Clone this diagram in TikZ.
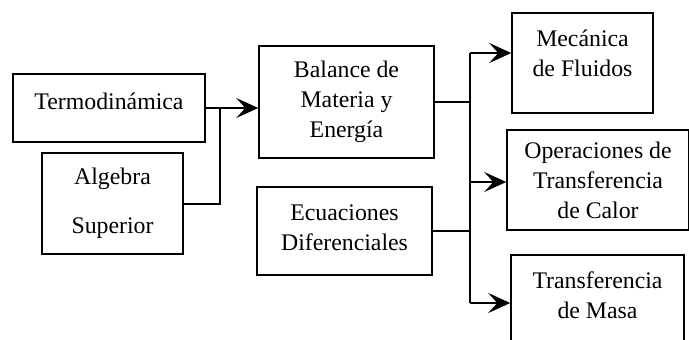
\documentclass[tikz,border=0pt]{standalone}
\usepackage{fontspec}
\setmainfont{Liberation Serif}
\usetikzlibrary{arrows.meta}
\tikzstyle{box}=[draw,line width=0.75pt,align=center,inner sep=0pt,font=\fontsize{11.9}{15}\selectfont]
\tikzstyle{line}=[line width=1pt]
\tikzstyle{arr}=[line width=1pt,-{Stealth[length=11pt,width=10pt,inset=4.5pt]}]

\begin{document}
\begin{tikzpicture}[x=0.5pt,y=-0.5pt]
\useasboundingbox (0,0) rectangle (689,339);

\node[box,minimum width=96pt,minimum height=34pt,text depth=7pt] (termo) at (109,108) {Termodinámica};
\node[box,minimum width=70.5pt,minimum height=50.5pt] (alg) at (112.5,203.5) {Algebra\\[9.5pt]Superior};
\node[box,minimum width=87.5pt,minimum height=56pt] (bal) at (346.5,102) {Balance de\\Materia y\\Energía};
\node[box,minimum width=87.5pt,minimum height=44pt,text depth=3.5pt] (ecu) at (344.5,231) {Ecuaciones\\Diferenciales};
\node[box,minimum width=70.5pt,minimum height=50pt,text depth=10pt] (meca) at (582.5,63) {Mecánica\\de Fluidos};
\node[box,minimum width=91pt,minimum height=50pt] (oper) at (598,180) {Operaciones de\\Transferencia\\de Calor};
\node[box,minimum width=86.5pt,minimum height=50pt,text depth=10pt] (masa) at (597.5,305) {Transferencia\\de Masa};

\coordinate (j1) at (220,108);
\draw[line] (alg.east) -| (j1);
\draw[arr] (termo.east) -- (termo.east -| bal.west);

\coordinate (ta) at (470,53);
\coordinate (tb) at (470,182);
\coordinate (tc) at (470,303);
\draw[line] (ta) -- (tc);
\draw[line] (bal.east) -- (bal.east -| ta);
\draw[line] (ecu.east) -- (ecu.east -| ta);
\draw[arr] (ta) -- (ta -| meca.west);
\draw[arr] (tb) -- (tb -| oper.west);
\draw[arr] (tc) -- (tc -| masa.west);
\end{tikzpicture}
\end{document}
